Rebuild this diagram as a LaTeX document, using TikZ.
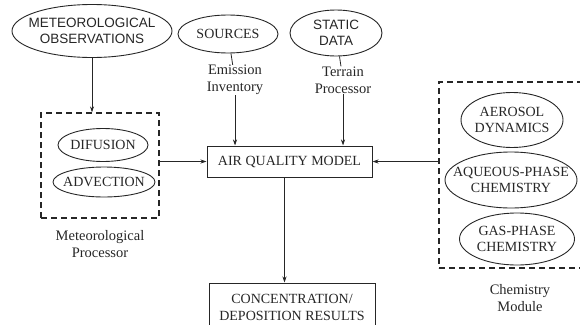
\documentclass[tikz,border=0pt]{standalone}
\usepackage{fontspec}
\setmainfont{Liberation Serif}
\setsansfont{Liberation Sans}
\usetikzlibrary{shapes.geometric,arrows.meta}
\tikzset{
  oval/.style={draw,ellipse,line width=0.9pt,inner sep=0pt},
  ovaltxt/.style={align=center,inner sep=0pt,font=\fontsize{14}{16}\selectfont},
  sansovaltxt/.style={ovaltxt,font=\sffamily\fontsize{13.5}{16.5}\selectfont},
  box/.style={draw,rectangle,line width=1pt,inner sep=0pt,align=center,font=\fontsize{14}{17}\selectfont},
  dashbox/.style={draw,rectangle,line width=1.1pt,dash pattern=on 6pt off 4pt,inner sep=0pt},
  lbl/.style={align=center,inner sep=0pt,font=\fontsize{14.5}{17}\selectfont},
  flow/.style={-{Stealth[length=6pt,width=4pt]},line width=0.8pt}
}
\begin{document}
\begin{tikzpicture}[x=1pt,y=-1pt,black!85]
      \useasboundingbox (0,0) rectangle (580,324);
      \draw
        (92,31) node[oval,minimum width=160,minimum height=53,label={[sansovaltxt]center:METEOROLOGICAL\\OBSERVATIONS}] (metobs){}
        (228,34) node[oval,minimum width=100,minimum height=38,label={[ovaltxt]center:SOURCES}] (sources){}
        (336,33) node[oval,minimum width=92,minimum height=46,label={[sansovaltxt]center:STATIC\\DATA}] (static){}
        (235,80) node[lbl] (emis){Emission\\Inventory}
        (343,80) node[lbl] (terr){Terrain\\Processor}
        (100,165.5) node[dashbox,minimum width=118,minimum height=105] (metbox){}
        (103,145) node[oval,minimum width=90,minimum height=33,label={[ovaltxt]center:DIFUSION}] (dif){}
        (104,182) node[oval,minimum width=102,minimum height=30,label={[ovaltxt]center:ADVECTION}] (adv){}
        (100,244) node[lbl] (metlbl){Meteorological\\Processor}
        (289.5,161.5) node[box,minimum width=165,minimum height=31] (aqm){AIR QUALITY MODEL}
        (292,307) node[box,minimum width=166,minimum height=48] (conc){CONCENTRATION/\\DEPOSITION RESULTS}
        (511,175) node[dashbox,minimum width=144,minimum height=186] (chembox){}
        (512,120) node[oval,minimum width=102,minimum height=55,label={[ovaltxt]center:AEROSOL\\DYNAMICS}] (aero){}
        (511,180) node[oval,minimum width=132,minimum height=56,label={[ovaltxt]center:AQUEOUS-PHASE\\CHEMISTRY}] (aque){}
        (517,239) node[oval,minimum width=115,minimum height=52,label={[ovaltxt]center:GAS-PHASE\\CHEMISTRY}] (gas){}
        (520,298) node[lbl] (chemlbl){Chemistry\\Module};
      \begin{scope}[flow]
        \draw (metobs.south) to (metobs.south |- metbox.north);
        \draw[-] (sources) to (emis);
        \draw (emis) to (emis |- aqm.north);
        \draw[-] (static) to (terr);
        \draw (terr) to (terr |- aqm.north);
        \draw (metbox.east |- aqm) to (aqm.west);
        \draw (chembox.west |- aqm) to (aqm.east);
        \draw ([xshift=-5pt]aqm.south) to ([xshift=-5pt]aqm.south |- conc.north);
      \end{scope}
    \end{tikzpicture}
\end{document}
